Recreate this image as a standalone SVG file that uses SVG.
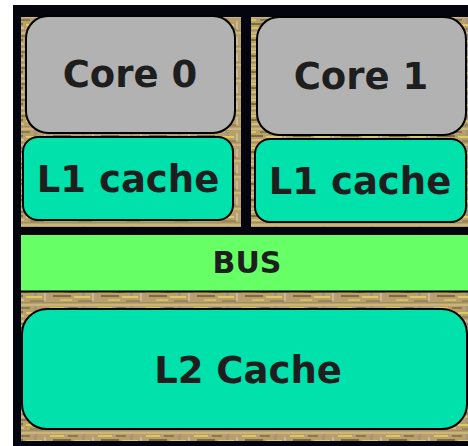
<svg xmlns="http://www.w3.org/2000/svg" width="468" height="446" viewBox="0 0 468 446">
<defs>
<pattern id="die" x="0" y="0" width="48" height="16" patternUnits="userSpaceOnUse">
<rect width="48" height="16" fill="#b7a06c"/>
<rect x="0" y="0" width="48" height="2" fill="#c9b57e"/>
<rect x="2" y="3" width="14" height="2" fill="#d9c75a"/>
<rect x="20" y="3" width="10" height="2" fill="#8c7a48"/>
<rect x="34" y="2" width="3" height="6" fill="#a89478"/>
<rect x="5" y="7" width="18" height="2" fill="#7e6c3e"/>
<rect x="26" y="8" width="16" height="2" fill="#dccb62"/>
<rect x="12" y="11" width="12" height="2" fill="#d2c070"/>
<rect x="30" y="12" width="14" height="2" fill="#9a8658"/>
<rect x="44" y="5" width="2" height="8" fill="#c8b8a0"/>
<rect x="0" y="14" width="48" height="1" fill="#a58f60"/>
</pattern>
<style>
.box{stroke:#000;stroke-width:2}
.core{fill:#b2b2b2}
.cache{fill:#00e1ab}
.bus{fill:#66ff66}
.lbl{font-family:"DejaVu Sans",sans-serif;font-weight:bold;fill:#1e1e1e;text-anchor:middle}
</style>
</defs>
<g id="frame">
<rect x="13" y="5" width="455" height="441" fill="#04040e"/>
<rect x="21" y="17" width="447" height="424" fill="url(#die)"/>
<rect x="241" y="17" width="10" height="211" fill="#04040e"/>
<rect x="21" y="227" width="447" height="8" fill="#04040e"/>
</g>
<g id="core0">
<rect class="box core" x="26" y="16" width="209" height="117" rx="22"/>
<text class="lbl" x="130" y="87" font-size="37">Core 0</text>
</g>
<g id="core1">
<rect class="box core" x="257" y="17" width="209" height="118" rx="22"/>
<text class="lbl" x="361" y="89" font-size="37">Core 1</text>
</g>
<g id="l1c0">
<rect class="box cache" x="23" y="137" width="210" height="83" rx="15"/>
<text class="lbl" x="128" y="192" font-size="37">L1 cache</text>
</g>
<g id="l1c1">
<rect class="box cache" x="255" y="139" width="211" height="83" rx="15"/>
<text class="lbl" x="360" y="194" font-size="37">L1 cache</text>
</g>
<g id="bus">
<rect class="bus" x="21" y="235" width="447" height="56"/>
<line x1="21" y1="291.5" x2="468" y2="291.5" stroke="#000" stroke-width="2"/>
<text class="lbl" x="247" y="273" font-size="30">BUS</text>
</g>
<g id="l2">
<rect class="box cache" x="22" y="309" width="445" height="120" rx="25"/>
<text class="lbl" x="248" y="383" font-size="37">L2 Cache</text>
</g>
<g id="connectors"/>
</svg>
